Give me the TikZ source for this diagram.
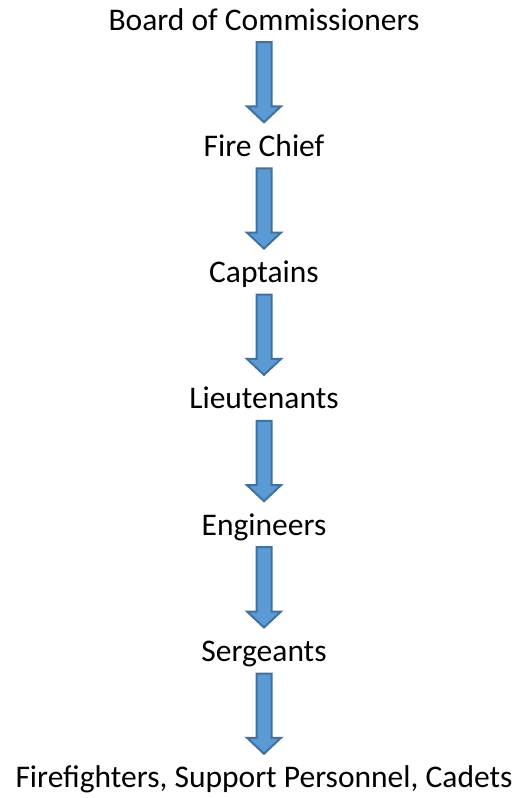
\documentclass[tikz,border=0pt]{standalone}
\usepackage{fontspec}
\setmainfont{Carlito}
\usetikzlibrary{positioning,calc}
\definecolor{arrowfill}{HTML}{5B9BD5}
\definecolor{arrowline}{HTML}{41719C}
\tikzset{
  rank/.style={inner sep=0pt,text height=22pt,text depth=7pt,font=\fontsize{31.5}{38}\selectfont},
  blockarrow/.style={draw=arrowline,fill=arrowfill,line width=2pt,
    to path={let \p1=(\tikztostart.base), \p2=(\tikztotarget.base) in
      (\x1-7.5pt,\y1-12pt) -- (\x1+7.5pt,\y1-12pt) -- (\x1+7.5pt,\y2+50pt) -- (\x1+17pt,\y2+50pt)
      -- (\x1,\y2+34pt) -- (\x1-17pt,\y2+50pt) -- (\x1-7.5pt,\y2+50pt) -- cycle}}
}
\begin{document}
\begin{tikzpicture}[x=1pt,y=1pt,node distance=126.3pt,on grid]
\useasboundingbox (0,0) rectangle (524,-798);
\node[rank,anchor=base] (board) at (264,-30) {Board of Commissioners};
\node[rank] (chief) [below=of board] {Fire Chief};
\node[rank] (captains) [below=of chief] {Captains};
\node[rank] (lieutenants) [below=of captains] {Lieutenants};
\node[rank] (engineers) [below=of lieutenants] {Engineers};
\node[rank] (sergeants) [below=of engineers] {Sergeants};
\node[rank] (firefighters) [below=of sergeants] {Firefighters, Support Personnel, Cadets};

\path (board) edge[blockarrow] (chief)
      (chief) edge[blockarrow] (captains)
      (captains) edge[blockarrow] (lieutenants)
      (lieutenants) edge[blockarrow] (engineers)
      (engineers) edge[blockarrow] (sergeants)
      (sergeants) edge[blockarrow] (firefighters);
\end{tikzpicture}
\end{document}
